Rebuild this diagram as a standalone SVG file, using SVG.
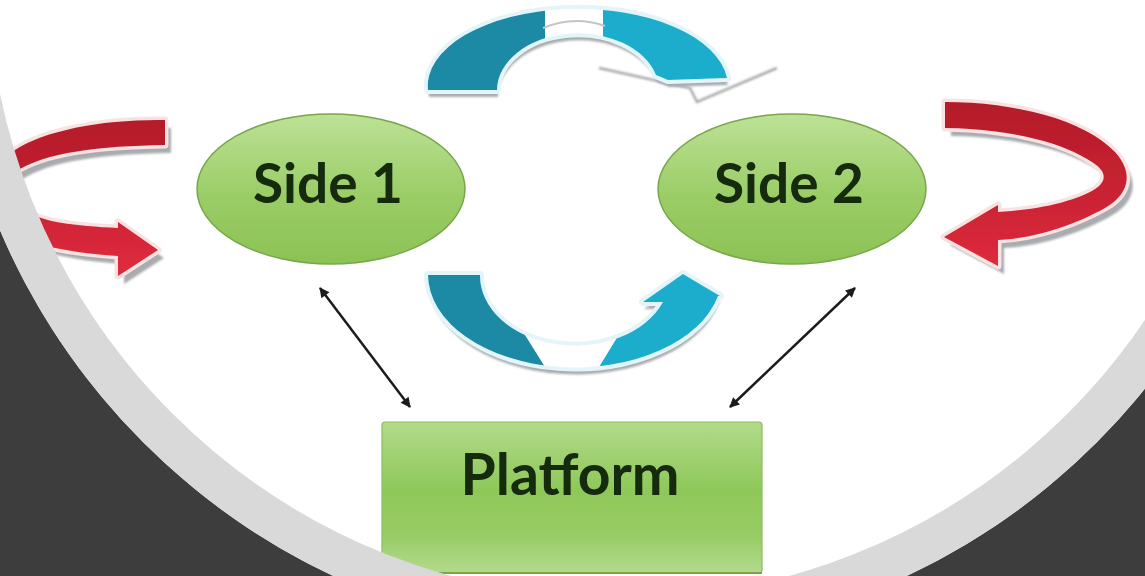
<svg xmlns="http://www.w3.org/2000/svg" width="1145" height="576" viewBox="0 0 1145 576">
  <style>
    .label { font-family: "Lato", "Open Sans", "Liberation Sans", sans-serif; font-weight: 700; font-size: 55px; fill: #14290e; text-anchor: middle; }
    .node-oval { fill: url(#ovalFill); stroke: #78a64a; stroke-width: 1.5; }
    .link { stroke: #1c1c1c; stroke-width: 2.5; fill: none; marker-start: url(#tip); marker-end: url(#tip); }
    .shadow { fill: #a9acaf; filter: url(#soft); }
    .blue-edge { fill: #ffffff; stroke: #e4f5fa; stroke-width: 8; stroke-linejoin: round; paint-order: stroke; }
    .red-edge { stroke: #f8e2e2; stroke-width: 7; stroke-linejoin: round; paint-order: stroke; }
  </style>
  <defs>
    <filter id="soft" x="-10%" y="-10%" width="120%" height="120%">
      <feGaussianBlur stdDeviation="1.3"/>
    </filter>
    <filter id="haze" x="-5%" y="-5%" width="110%" height="110%">
      <feGaussianBlur stdDeviation="0.7"/>
    </filter>
    <linearGradient id="ovalFill" x1="0" y1="0" x2="0" y2="1">
      <stop offset="0" stop-color="#bde196"/>
      <stop offset="0.55" stop-color="#9acd66"/>
      <stop offset="1" stop-color="#8cc255"/>
    </linearGradient>
    <linearGradient id="boxFill" x1="0" y1="0" x2="0" y2="1">
      <stop offset="0" stop-color="#b3da8b"/>
      <stop offset="0.45" stop-color="#8ec859"/>
      <stop offset="0.75" stop-color="#98cc66"/>
      <stop offset="1" stop-color="#b4da8c"/>
    </linearGradient>
    <linearGradient id="redL" gradientUnits="userSpaceOnUse" x1="0" y1="120" x2="0" y2="265">
      <stop offset="0" stop-color="#b41c2a"/>
      <stop offset="0.45" stop-color="#c42130"/>
      <stop offset="1" stop-color="#de2a3d"/>
    </linearGradient>
    <linearGradient id="redR" gradientUnits="userSpaceOnUse" x1="0" y1="102" x2="0" y2="266">
      <stop offset="0" stop-color="#b41c2a"/>
      <stop offset="0.45" stop-color="#c42130"/>
      <stop offset="1" stop-color="#de2a3d"/>
    </linearGradient>
    <marker id="tip" viewBox="0 0 10 10" refX="9" refY="5" markerWidth="5" markerHeight="4" orient="auto-start-reverse">
      <path d="M0,0 L10,5 L0,10 Z" fill="#1c1c1c"/>
    </marker>
    <!-- curved band shapes for the two blue arrows -->
    <path id="topBand" d="M428,90 A150,77 0 0 1 727,78 L668,80 L656,75 A81,57 0 0 0 497,90 Z"/>
    <path id="botBand" d="M428,275 A147,93 0 0 0 718,296 L720,296 L683,274 L643,302 L663,302 A95,70 0 0 1 480,275 Z"/>
    <!-- looping red arrows -->
    <path id="loopL" d="M165,120 C105,119 45,130 15,150 C-10,168 -20,205 5,228 C20,242 60,252 118,256 L118,276 L158,250 L118,222 L118,228 C75,226 40,222 25,210 C5,195 0,182 15,172 C45,152 100,146 165,145 Z"/>
    <path id="loopR" d="M945,102 C1015,102 1085,120 1115,152 C1135,174 1128,195 1105,208 C1080,222 1040,238 998,240 L998,266 L944,237 L998,205 L998,212 C1035,210 1068,203 1090,192 C1108,183 1108,172 1092,162 C1065,144 1015,129 945,128 Z"/>
    <clipPath id="clipTopL"><rect x="380" y="0" width="165" height="130"/></clipPath>
    <clipPath id="clipTopR"><rect x="603" y="0" width="200" height="130"/></clipPath>
    <clipPath id="clipBotL"><polygon points="380,250 525,250 525,335 550,375 380,390"/></clipPath>
    <clipPath id="clipBotR"><polygon points="596,372 618,336 618,250 800,250 800,400 596,400"/></clipPath>
  </defs>

  <rect width="1145" height="576" fill="#ffffff"/>

  <g filter="url(#haze)">
    <g id="connectors">
      <!-- red self-loops -->
      <g id="loop-left">
        <use href="#loopL" class="shadow" transform="translate(6,8)"/>
        <use href="#loopL" fill="url(#redL)" class="red-edge"/>
      </g>
      <g id="loop-right">
        <use href="#loopR" class="shadow" transform="translate(6,8)"/>
        <use href="#loopR" fill="url(#redR)" class="red-edge"/>
      </g>

      <!-- blue arrow over the top, Side 1 to Side 2 -->
      <g id="flow-top">
        <polyline points="599,68 690,88 697,102 777,68" fill="none" stroke="#a5a9ad" stroke-width="2.5" filter="url(#soft)"/>
        <use href="#topBand" class="shadow" transform="translate(1,7)"/>
        <use href="#topBand" class="blue-edge"/>
        <use href="#topBand" fill="#1a8aa4" clip-path="url(#clipTopL)"/>
        <use href="#topBand" fill="#1eadcc" clip-path="url(#clipTopR)"/>
        <path d="M543,28 Q574,15 605,26" fill="none" stroke="#c2c6ca" stroke-width="2"/>
      </g>

      <!-- blue arrow underneath, Side 1 to Side 2 -->
      <g id="flow-bottom">
        <line x1="598" y1="311" x2="752" y2="311" stroke="#a5a9ad" stroke-width="2.5" filter="url(#soft)"/>
        <use href="#botBand" class="shadow" transform="translate(1,7)"/>
        <use href="#botBand" class="blue-edge"/>
        <use href="#botBand" fill="#1a8aa4" clip-path="url(#clipBotL)"/>
        <use href="#botBand" fill="#1eadcc" clip-path="url(#clipBotR)"/>
      </g>

      <!-- two-way links to the platform -->
      <path class="link" d="M320,288 L410,407"/>
      <path class="link" d="M855,288 L730,407"/>
    </g>

    <g id="side1">
      <ellipse class="node-oval" cx="331" cy="189" rx="134" ry="75"/>
      <text class="label" x="328" y="203">Side 1</text>
    </g>

    <g id="side2">
      <ellipse class="node-oval" cx="792" cy="189" rx="134" ry="75"/>
      <text class="label" x="789" y="203">Side 2</text>
    </g>

    <g id="platform">
      <rect x="382" y="422" width="380" height="151" rx="3" fill="url(#boxFill)" stroke="#8cbc60" stroke-width="1.2"/>
      <line x1="384" y1="573" x2="762" y2="573" stroke="#78a64a" stroke-width="2"/>
      <text class="label" x="570" y="495" style="font-size:57px">Platform</text>
    </g>
  </g>

  <!-- round frame: dark surround and light ring -->
  <g id="frame">
    <path fill="#3d3d3d" fill-rule="evenodd" d="M0,0 H1145 V576 H0 Z M-54,-34 a674,674 0 1 0 1348,0 a674,674 0 1 0 -1348,0 Z"/>
    <circle cx="620" cy="-34" r="653.5" fill="none" stroke="#d9d9d9" stroke-width="41"/>
  </g>
</svg>
